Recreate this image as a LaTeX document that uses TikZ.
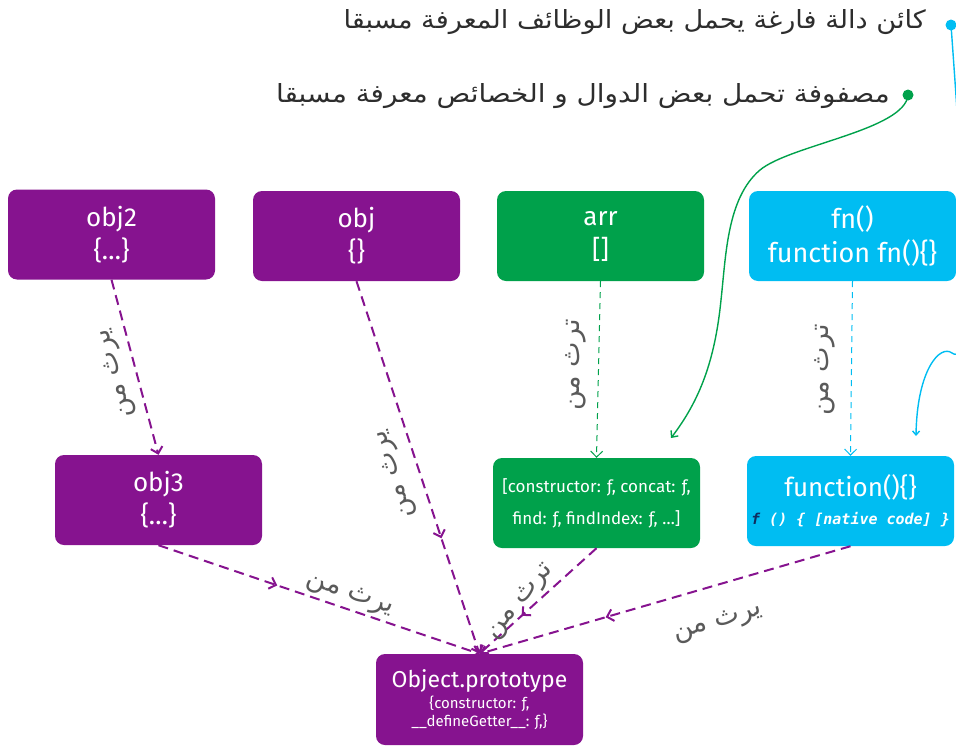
\documentclass[tikz,border=0pt]{standalone}
\usepackage{fontspec}
\setmainfont{Fira Sans}
\newfontfamily\arabicfont[Script=Arabic]{DejaVu Sans}
\newfontfamily\codefont{DejaVu Sans Mono}
\TeXXeTstate=1
\usetikzlibrary{arrows.meta,decorations.markings}
\newcommand\arabictext[1]{{\arabicfont\beginR #1\endR}}
\definecolor{objpurple}{RGB}{134,19,143}
\definecolor{arrgreen}{RGB}{0,161,75}
\definecolor{fncyan}{RGB}{0,189,242}
\definecolor{labelgray}{RGB}{90,90,90}
\definecolor{textdark}{RGB}{45,45,45}
\definecolor{codenavy}{RGB}{15,45,95}
\begin{document}
\begin{tikzpicture}[x=1pt,y=-1pt,
  box/.style={rectangle, rounded corners=9pt, minimum width=207pt,
    minimum height=90pt, text=white, align=center, inner sep=0pt,
    font=\fontsize{26}{33}\selectfont},
  purplebox/.style={box, fill=objpurple},
  greenbox/.style={box, fill=arrgreen},
  cyanbox/.style={box, fill=fncyan},
  barb/.tip={Straight Barb[length=6pt,width=12pt,line width=2pt]},
  inherit/.style={draw=objpurple, line width=2pt, dash pattern=on 10pt off 6pt, -barb},
  midtip/.style={postaction={decorate}, decoration={markings,
    mark=at position #1 with {\arrow{barb}}}},
  thinlink/.style={line width=1pt, dash pattern=on 6pt off 5pt,
    -{Straight Barb[length=6pt,width=12pt,line width=1pt]}},
  lbl/.style={font=\fontsize{27}{30}\selectfont, text=labelgray, inner sep=0pt},
  note/.style={font=\fontsize{25}{28}\selectfont, text=textdark, inner sep=0pt, anchor=east},
  pin/.style={circle, inner sep=0pt, minimum size=11pt},
]
\useasboundingbox (0,0) rectangle (956,747);

% notes at the top
\node[note, xscale=1.086] (fnnote) at (926,22) {\arabictext{كائن دالة فارغة يحمل بعض الوظائف المعرفة مسبقا}};
\node[note, xscale=1.115] (arrnote) at (890,96) {\arabictext{مصفوفة تحمل بعض الدوال و الخصائص معرفة مسبقا}};
\node[pin, fill=fncyan] (fnpin) at (951,25) {};
\node[pin, fill=arrgreen] (arrpin) at (908,95) {};

% objects
\node[purplebox] (obj2) at (111.5,234.5) {obj2\\\{…\}};
\node[purplebox] (obj) at (356.5,236) {obj\\\{\}};
\node[greenbox] (arr) at (600.5,236) {arr\\{[]}};
\node[cyanbox, font=\fontsize{27}{34}\selectfont] (fn) at (852.5,236) {fn()\\function fn()\{\}};
\node[purplebox] (obj3) at (158.5,500) {obj3\\\{…\}};
\node[greenbox, font=\fontsize{17}{32}\selectfont] (arrproto) at (596.5,503)
  {{[constructor: ƒ, concat: ƒ,}\\find: ƒ, findIndex: ƒ, …]};
\node[cyanbox, font=\fontsize{26}{30}\selectfont] (fnproto) at (850.5,501)
  {function()\{\}\\[-2pt]
   \codefont\itshape\bfseries\fontsize{15}{18}\selectfont{\color{codenavy}f} () \{ [native code] \}};
\node[purplebox, minimum height=91pt, font=\fontsize{15}{18}\selectfont] (objproto) at (479.5,699.5)
  {{\fontsize{23}{26}\selectfont Object.prototype}\\[3pt]
   \{constructor: ƒ,\\
   \_\_defineGetter\_\_: ƒ,\}};

% prototype links
\draw[inherit] (obj2.south) -- (obj3.north);
\draw[inherit, midtip=0.69] (obj.south) -- (objproto.north);
\draw[thinlink, draw=arrgreen] (arr.south) -- (arrproto.north);
\draw[thinlink, draw=fncyan] (fn.south) -- (fnproto.north);
\draw[inherit, midtip=0.37] (obj3.south) -- (objproto.north);
\draw[inherit, midtip=0.64] (arrproto.south) -- (objproto.north);
\draw[inherit, midtip=0.66] (fnproto.south) -- (objproto.north);

% link labels
\node[lbl, rotate=105] (l1) at (116,373) {\arabictext{يرث من}};
\node[lbl, rotate=108] (l2) at (395,474) {\arabictext{يرث من}};
\node[lbl, rotate=90] (l3) at (576,365) {\arabictext{ترث من}};
\node[lbl, rotate=90] (l4) at (825,370) {\arabictext{ترث من}};
\node[lbl, rotate=-19] (l5) at (350,595) {\arabictext{يرث من}};
\node[lbl, rotate=50] (l6) at (521,602) {\arabictext{ترث من}};
\node[lbl, rotate=16] (l7) at (718,623) {\arabictext{يرث من}};

% pointers from the notes
\coordinate (arrtarget) at (671,438);
\coordinate (fntarget) at (916,436);
\draw[arrgreen, line width=1.4pt, -{Straight Barb[length=5pt,width=9pt]}]
  (arrpin.center) .. controls (905,130) and (790,145) .. (760,170)
  .. controls (727,198) and (726,255) .. (721,300)
  .. controls (715,360) and (700,400) .. (arrtarget);
\draw[fncyan, line width=1.4pt, -{Straight Barb[length=4pt,width=7pt]}]
  (fnpin.center) .. controls (965,220) and (975,370) .. (952,353)
  .. controls (940,344) and (917,370) .. (fntarget);
\end{tikzpicture}
\end{document}
